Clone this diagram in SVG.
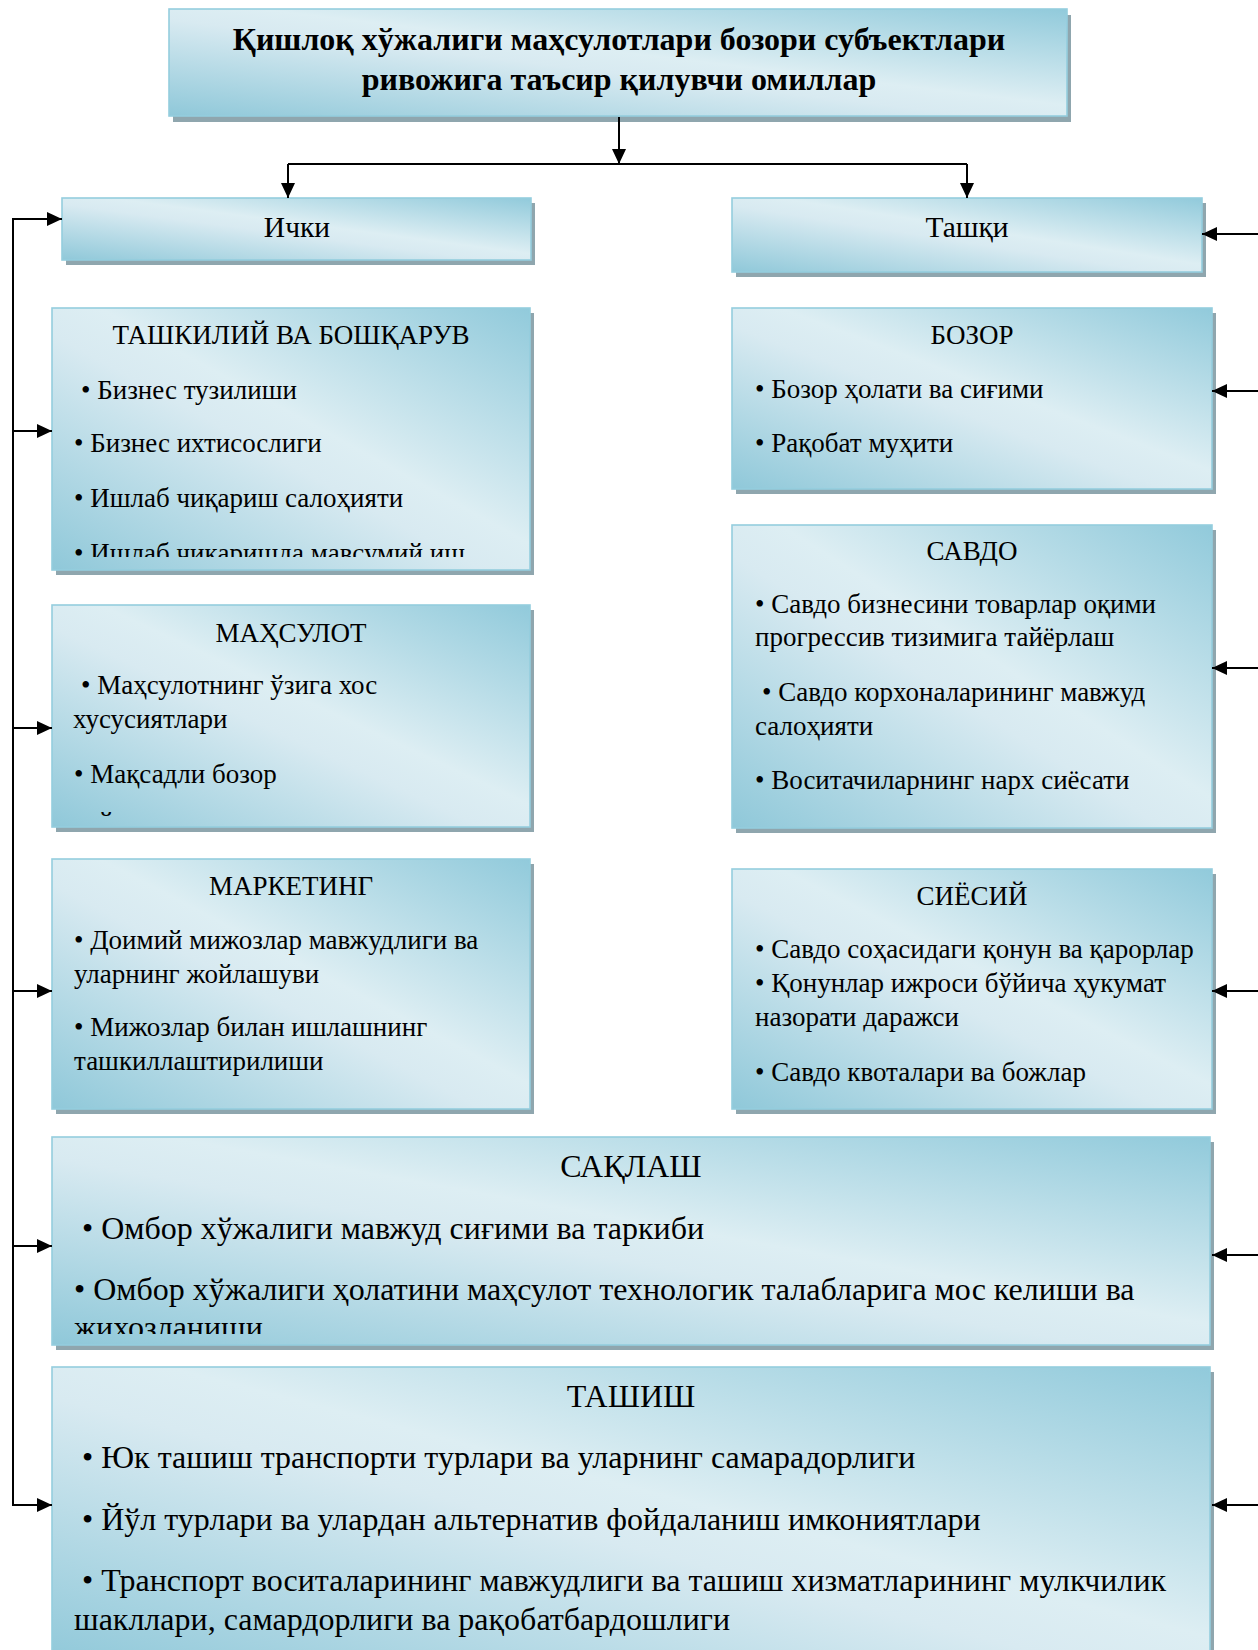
<svg xmlns="http://www.w3.org/2000/svg" width="1258" height="1650" viewBox="0 0 1258 1650">
<style>
  .box { fill: url(#bg); stroke: #94cede; stroke-width: 1.6; }
  .shadow { fill: #8fa6ae; }
  .t { font-family: "Liberation Serif", "Times New Roman", "DejaVu Serif", serif; fill: #000; }
  .title { font-size: 32px; font-weight: bold; text-anchor: middle; }
  .head { font-size: 29.5px; text-anchor: middle; }
  .h2 { font-size: 27px; text-anchor: middle; }
  .it { font-size: 27px; }
  .h3 { font-size: 32px; text-anchor: middle; }
  .it3 { font-size: 32px; }
  .conn { stroke: #000; stroke-width: 2; fill: none; }
</style>
<defs>
  <linearGradient id="bg" x1="0" y1="1" x2="1" y2="0">
    <stop offset="0" stop-color="#8fc8d9"/>
    <stop offset="0.45" stop-color="#d8eaf1"/>
    <stop offset="0.55" stop-color="#ddeef3"/>
    <stop offset="1" stop-color="#91cadb"/>
  </linearGradient>
  <marker id="arr" markerUnits="userSpaceOnUse" viewBox="0 0 15 14" refX="15" refY="7" markerWidth="15" markerHeight="14" orient="auto">
    <path d="M0,0 L15,7 L0,14 z" fill="#000"/>
  </marker>
  <clipPath id="c1"><rect x="52" y="308" width="478" height="249"/></clipPath>
  <clipPath id="c2"><rect x="52" y="605" width="478" height="213"/></clipPath>
  <clipPath id="c3"><rect x="52" y="1137" width="1158" height="197"/></clipPath>
</defs>

<g id="title">
  <rect class="shadow" x="173" y="15" width="898" height="107"/>
  <rect class="box" x="169" y="9" width="898" height="107"/>
  <text class="t title" x="619" y="50">Қишлоқ хўжалиги маҳсулотлари бозори субъектлари</text>
  <text class="t title" x="619" y="90">ривожига таъсир қилувчи омиллар</text>
</g>

<g id="ichki">
  <rect class="shadow" x="66" y="203" width="469" height="62"/>
  <rect class="box" x="62" y="198" width="469" height="62"/>
  <text class="t head" x="297" y="237">Ички</text>
</g>

<g id="tashqi">
  <rect class="shadow" x="736" y="203" width="470" height="74"/>
  <rect class="box" x="732" y="198" width="470" height="74"/>
  <text class="t head" x="967" y="237">Ташқи</text>
</g>

<g id="tashkiliy">
  <rect class="shadow" x="56" y="313" width="478" height="262"/>
  <rect class="box" x="52" y="308" width="478" height="262"/>
  <text class="t h2" x="291" y="344">ТАШКИЛИЙ ВА БОШҚАРУВ</text>
  <text class="t it" x="81" y="399">• Бизнес тузилиши</text>
  <text class="t it" x="74" y="452">• Бизнес ихтисослиги</text>
  <text class="t it" x="74" y="507">• Ишлаб чиқариш салоҳияти</text>
  <text class="t it" x="74" y="562" clip-path="url(#c1)">• Ишлаб чиқаришда мавсумий иш</text>
</g>

<g id="mahsulot">
  <rect class="shadow" x="56" y="610" width="478" height="222"/>
  <rect class="box" x="52" y="605" width="478" height="222"/>
  <text class="t h2" x="291" y="642">МАҲСУЛОТ</text>
  <text class="t it" x="81" y="694">• Маҳсулотнинг ўзига хос</text>
  <text class="t it" x="73" y="728">хусусиятлари</text>
  <text class="t it" x="74" y="783">• Мақсадли бозор</text>
  <text class="t it" x="99" y="831" clip-path="url(#c2)">й</text>
</g>

<g id="marketing">
  <rect class="shadow" x="56" y="864" width="478" height="250"/>
  <rect class="box" x="52" y="859" width="478" height="250"/>
  <text class="t h2" x="291" y="895">МАРКЕТИНГ</text>
  <text class="t it" x="74" y="949">• Доимий мижозлар мавжудлиги ва</text>
  <text class="t it" x="74" y="983">уларнинг жойлашуви</text>
  <text class="t it" x="74" y="1036">• Мижозлар билан ишлашнинг</text>
  <text class="t it" x="74" y="1070">ташкиллаштирилиши</text>
</g>

<g id="bozor">
  <rect class="shadow" x="736" y="313" width="480" height="181"/>
  <rect class="box" x="732" y="308" width="480" height="181"/>
  <text class="t h2" x="972" y="344">БОЗОР</text>
  <text class="t it" x="755" y="398">• Бозор ҳолати ва сиғими</text>
  <text class="t it" x="755" y="452">• Рақобат муҳити</text>
</g>

<g id="savdo">
  <rect class="shadow" x="736" y="530" width="480" height="303"/>
  <rect class="box" x="732" y="525" width="480" height="303"/>
  <text class="t h2" x="972" y="560">САВДО</text>
  <text class="t it" x="755" y="613">• Савдо бизнесини товарлар оқими</text>
  <text class="t it" x="755" y="646">прогрессив тизимига тайёрлаш</text>
  <text class="t it" x="762" y="701">• Савдо корхоналарининг мавжуд</text>
  <text class="t it" x="755" y="735">салоҳияти</text>
  <text class="t it" x="755" y="789">• Воситачиларнинг нарх сиёсати</text>
</g>

<g id="siyosiy">
  <rect class="shadow" x="736" y="874" width="480" height="240"/>
  <rect class="box" x="732" y="869" width="480" height="240"/>
  <text class="t h2" x="972" y="905">СИЁСИЙ</text>
  <text class="t it" x="755" y="958">• Савдо соҳасидаги қонун ва қарорлар</text>
  <text class="t it" x="755" y="992">• Қонунлар ижроси бўйича ҳукумат</text>
  <text class="t it" x="755" y="1026">назорати даражси</text>
  <text class="t it" x="755" y="1081">• Савдо квоталари ва божлар</text>
</g>

<g id="saqlash">
  <rect class="shadow" x="56" y="1142" width="1158" height="208"/>
  <rect class="box" x="52" y="1137" width="1158" height="208"/>
  <text class="t h3" x="631" y="1177">САҚЛАШ</text>
  <text class="t it3" x="82" y="1239">• Омбор хўжалиги мавжуд сиғими ва таркиби</text>
  <text class="t it3" x="74" y="1300">• Омбор хўжалиги ҳолатини маҳсулот технологик талабларига мос келиши ва</text>
  <text class="t it3" x="74" y="1338" clip-path="url(#c3)">жихозланиши</text>
</g>

<g id="tashish">
  <rect class="shadow" x="56" y="1372" width="1158" height="300"/>
  <rect class="box" x="52" y="1367" width="1158" height="300"/>
  <text class="t h3" x="631" y="1407">ТАШИШ</text>
  <text class="t it3" x="82" y="1468">• Юк ташиш транспорти турлари ва уларнинг самарадорлиги</text>
  <text class="t it3" x="82" y="1530">• Йўл турлари ва улардан альтернатив фойдаланиш имкониятлари</text>
  <text class="t it3" x="82" y="1591">• Транспорт воситаларининг мавжудлиги ва ташиш хизматларининг мулкчилик</text>
  <text class="t it3" x="74" y="1630">шакллари, самардорлиги ва рақобатбардошлиги</text>
</g>

<g id="connectors">
  <path class="conn" d="M619,117 V164" marker-end="url(#arr)"/>
  <path class="conn" d="M288,164 H967"/>
  <path class="conn" d="M288,164 V198" marker-end="url(#arr)"/>
  <path class="conn" d="M967,164 V198" marker-end="url(#arr)"/>
  <path class="conn" d="M13,1505 V219"/>
  <path class="conn" d="M12,219 H62" marker-end="url(#arr)"/>
  <path class="conn" d="M13,431 H52" marker-end="url(#arr)"/>
  <path class="conn" d="M13,728 H52" marker-end="url(#arr)"/>
  <path class="conn" d="M13,991 H52" marker-end="url(#arr)"/>
  <path class="conn" d="M13,1246 H52" marker-end="url(#arr)"/>
  <path class="conn" d="M12,1505 H52" marker-end="url(#arr)"/>
  <path class="conn" d="M1258,234 H1202" marker-end="url(#arr)"/>
  <path class="conn" d="M1258,391 H1212" marker-end="url(#arr)"/>
  <path class="conn" d="M1258,668 H1212" marker-end="url(#arr)"/>
  <path class="conn" d="M1258,991 H1212" marker-end="url(#arr)"/>
  <path class="conn" d="M1258,1255 H1212" marker-end="url(#arr)"/>
  <path class="conn" d="M1258,1505 H1212" marker-end="url(#arr)"/>
</g>
</svg>
